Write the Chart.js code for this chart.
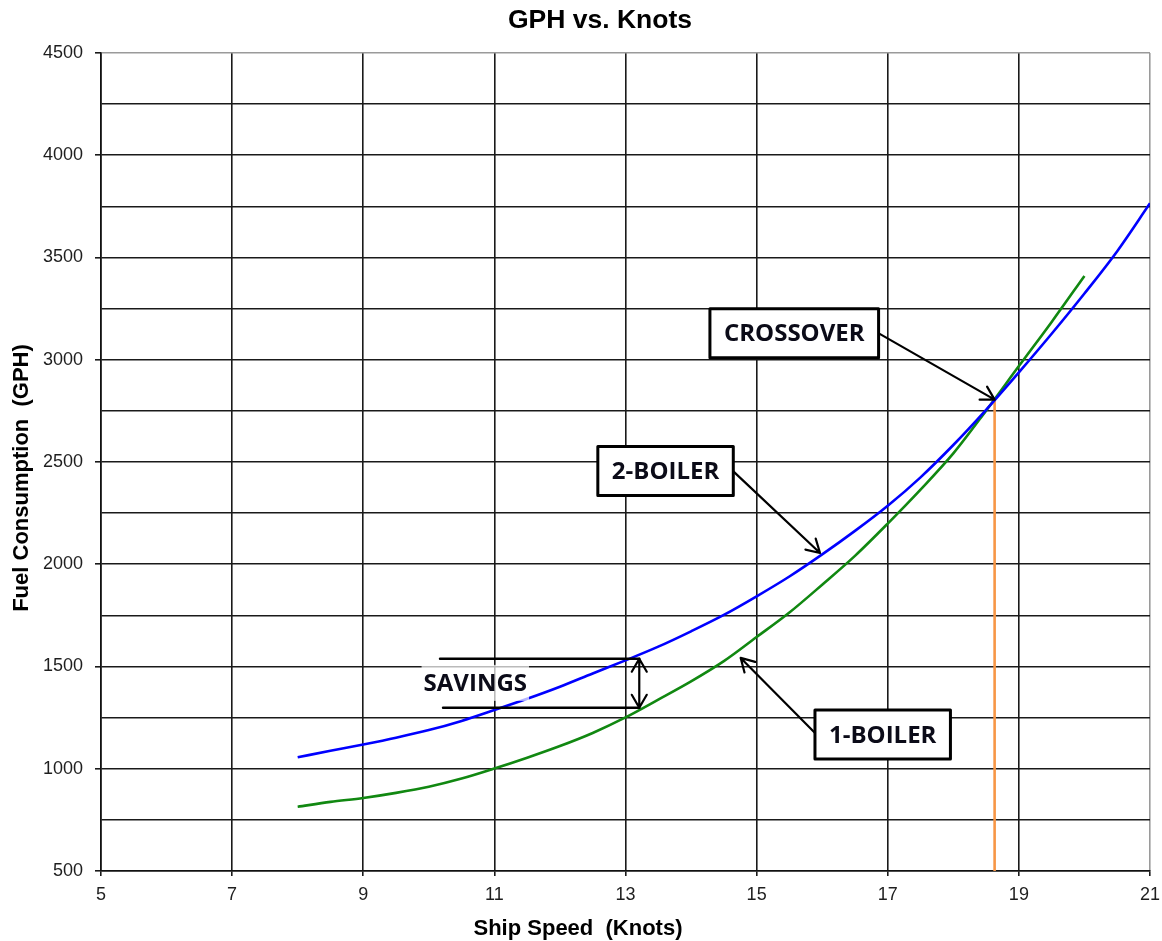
<!DOCTYPE html>
<html>
<head>
<meta charset="utf-8">
<title>GPH vs. Knots</title>
<script src="https://cdn.jsdelivr.net/npm/chart.js@4.4.1/dist/chart.umd.min.js"></script>
<style>
    html, body { margin: 0; padding: 0; background: #fff; }
    #wrap { width: 1162px; height: 941px; position: relative; }
</style>
</head>
<body>
<div id="wrap"><canvas id="chart"></canvas></div>
<script>
// ship speed (knots) at which both curves were read
const knots = [8, 8.5, 9, 9.5, 10, 10.5, 11, 11.5, 12, 12.5, 13, 13.5, 14, 14.5,
    15, 15.5, 16, 16.5, 17, 17.5, 18, 18.5, 19, 19.5, 20, 20.5, 21];

// fuel consumption, gallons per hour
const twoBoiler = [1056, 1088, 1119, 1152, 1189, 1234, 1287, 1342, 1401, 1466, 1530, 1597, 1672, 1752,
    1843, 1940, 2048, 2163, 2286, 2425, 2583, 2755, 2938, 3127, 3324, 3531, 3765];
const oneBoiler = [814, 838, 857, 882, 912, 952, 1001, 1054, 1111, 1175, 1251, 1338, 1427, 1526,
    1644, 1764, 1900, 2041, 2199, 2365, 2542, 2751, 2969, 3185, 3410];

const crossoverKnots = 18.63;
const crossoverGph = 2805;

const xTicks = [5, 7, 9, 11, 13, 15, 17, 19, 21];
const yTicks = [500, 1000, 1500, 2000, 2500, 3000, 3500, 4000, 4500];

// callouts, placed in data units
const callouts = [
    { text: 'CROSSOVER', at: [15.574, 3130], from: [16.857, 3130], to: [crossoverKnots, crossoverGph] },
    { text: '2-BOILER', at: [13.611, 2456], from: [14.645, 2454], to: [15.967, 2055] },
    { text: '1-BOILER', at: [16.923, 1167], from: [15.891, 1175], to: [14.757, 1542] },
];
const savings = { text: 'SAVINGS', at: [10.709, 1420], knots: 13.21, high: 1538, low: 1298, topFrom: 10.171, lowFrom: 10.217 };

const ink = '#1e1e1e';
const gridInk = '#1a1a1a';
const labelFont = '"Open Sans", "DejaVu Sans", sans-serif';
const axisFont = '"Liberation Sans", Arial, sans-serif';

function pairs(xs, ys) {
    return ys.map((y, i) => ({ x: xs[i], y }));
}

function arrow(ctx, x1, y1, x2, y2, both) {
    const head = 15;
    const spread = Math.PI / 6;
    ctx.beginPath();
    ctx.moveTo(x1, y1);
    ctx.lineTo(x2, y2);
    const tip = (tx, ty, ang) => {
        ctx.moveTo(tx + head * Math.cos(ang + spread), ty + head * Math.sin(ang + spread));
        ctx.lineTo(tx, ty);
        ctx.lineTo(tx + head * Math.cos(ang - spread), ty + head * Math.sin(ang - spread));
    };
    tip(x2, y2, Math.atan2(y1 - y2, x1 - x2));
    if (both) {
        tip(x1, y1, Math.atan2(y2 - y1, x2 - x1));
    }
    ctx.stroke();
}

const annotations = {
    id: 'annotations',
    afterDatasetsDraw(chart) {
        const { ctx, scales: { x, y } } = chart;
        const px = (p) => [x.getPixelForValue(p[0]), y.getPixelForValue(p[1])];
        ctx.save();
        ctx.strokeStyle = '#000';
        ctx.lineCap = 'round';
        ctx.lineJoin = 'round';
        ctx.font = 'bold 24px ' + labelFont;

        // savings bracket
        const sx = x.getPixelForValue(savings.knots);
        const hi = y.getPixelForValue(savings.high);
        const lo = y.getPixelForValue(savings.low);
        const [tx, ty] = px(savings.at);
        const tw = ctx.measureText(savings.text).width;
        ctx.fillStyle = 'rgba(255,255,255,0.7)';
        ctx.fillRect(tx - tw / 2 - 2, ty - 18, tw + 4, 36);
        ctx.lineWidth = 2.5;
        ctx.beginPath();
        ctx.moveTo(x.getPixelForValue(savings.topFrom), hi);
        ctx.lineTo(sx, hi);
        ctx.moveTo(x.getPixelForValue(savings.lowFrom), lo);
        ctx.lineTo(sx, lo);
        ctx.stroke();
        ctx.lineWidth = 2.2;
        arrow(ctx, sx, hi, sx, lo, true);
        ctx.fillStyle = '#0b0b18';
        ctx.textAlign = 'center';
        ctx.textBaseline = 'alphabetic';
        ctx.fillText(savings.text, tx, ty + 8);

        // boxed callouts with arrows
        callouts.forEach((c) => {
            const [ax, ay] = px(c.from);
            const [bx, by] = px(c.to);
            ctx.lineWidth = 2.2;
            arrow(ctx, ax, ay, bx, by, false);
            const [cx, cy] = px(c.at);
            const w = ctx.measureText(c.text).width + 28;
            const h = 49;
            ctx.fillStyle = '#fff';
            ctx.fillRect(cx - w / 2, cy - h / 2, w, h);
            ctx.lineWidth = 3;
            ctx.strokeRect(cx - w / 2, cy - h / 2, w, h);
            ctx.fillStyle = '#0b0b18';
            ctx.fillText(c.text, cx, cy + 8);
        });
        ctx.restore();
    },
    afterDraw(chart) {
        const { ctx } = chart;
        ctx.save();
        ctx.fillStyle = '#000';
        ctx.textAlign = 'center';
        ctx.textBaseline = 'middle';
        ctx.font = 'bold 26.5px ' + axisFont;
        ctx.fillText('GPH vs. Knots', 600, 21);
        ctx.font = 'bold 22px ' + axisFont;
        ctx.fillText('Ship Speed  (Knots)', 578, 929);
        ctx.translate(22, 478);
        ctx.rotate(-Math.PI / 2);
        ctx.fillText('Fuel Consumption  (GPH)', 0, 0);
        ctx.restore();
    },
};

new Chart(document.getElementById('chart'), {
    type: 'line',
    data: {
        datasets: [
            {
                label: '2-Boiler',
                data: pairs(knots, twoBoiler),
                borderColor: '#0000ff',
                borderWidth: 2.6,
                pointRadius: 0,
                cubicInterpolationMode: 'monotone',
            },
            {
                label: '1-Boiler',
                data: pairs(knots, oneBoiler),
                borderColor: '#118811',
                borderWidth: 2.6,
                pointRadius: 0,
                cubicInterpolationMode: 'monotone',
            },
            {
                label: 'Crossover',
                data: [{ x: crossoverKnots, y: yTicks[0] }, { x: crossoverKnots, y: crossoverGph }],
                borderColor: '#f79646',
                borderWidth: 2.6,
                pointRadius: 0,
            },
        ],
    },
    options: {
        responsive: true,
        maintainAspectRatio: false,
        animation: false,
        layout: { padding: { top: 53, right: 12, left: 0, bottom: 0 } },
        plugins: {
            legend: { display: false },
            tooltip: { enabled: false },
            title: { display: false },
        },
        scales: {
            x: {
                type: 'linear',
                min: xTicks[0],
                max: xTicks[xTicks.length - 1],
                afterFit: (scale) => {
                    scale.height = 70;
                    scale.paddingLeft = 0;
                    scale.paddingRight = 0;
                },
                afterBuildTicks: (scale) => { scale.ticks = xTicks.map((v) => ({ value: v })); },
                ticks: {
                    color: ink,
                    padding: 8,
                    maxRotation: 0,
                    font: { family: axisFont, size: 18 },
                    callback: (v) => String(v),
                },
                grid: {
                    color: (c) => (c.tick && c.tick.value === xTicks[xTicks.length - 1] ? '#9a9a9a' : gridInk),
                    lineWidth: 1.6,
                    tickLength: 5,
                    tickColor: gridInk,
                },
                border: { color: '#111', width: 1.6 },
            },
            y: {
                min: yTicks[0],
                max: yTicks[yTicks.length - 1],
                afterFit: (scale) => {
                    scale.width = 101;
                    scale.paddingTop = 0;
                    scale.paddingBottom = 0;
                },
                ticks: {
                    stepSize: 250,
                    color: ink,
                    padding: 12,
                    font: { family: axisFont, size: 18 },
                    callback: (v) => (yTicks.includes(v) ? String(v) : ''),
                },
                grid: {
                    color: (c) => (c.tick && c.tick.value === yTicks[yTicks.length - 1] ? '#9a9a9a' : gridInk),
                    lineWidth: 1.6,
                    tickLength: 6,
                    tickColor: (c) => (c.tick && yTicks.includes(c.tick.value) ? gridInk : 'rgba(0,0,0,0)'),
                },
                border: { color: '#111', width: 1.6 },
            },
        },
    },
    plugins: [annotations],
});
</script>
</body>
</html>
